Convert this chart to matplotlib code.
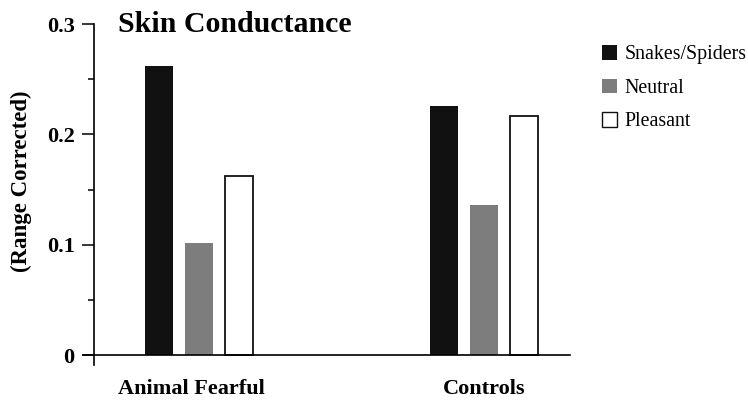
import matplotlib
matplotlib.use("Agg")
import matplotlib.pyplot as plt
from matplotlib.patches import Patch
import numpy as np

groups = ["Animal Fearful", "Controls"]
series = ["Snakes/Spiders", "Neutral", "Pleasant"]
snakes = [0.262, 0.226]
neutral = [0.102, 0.136]
pleasant = [0.162, 0.217]
yticks = [0, 0.1, 0.2, 0.3]
yticklabels = ["0", "0.1", "0.2", "0.3"]

plt.rcParams['font.family'] = ['Liberation Serif', 'DejaVu Serif']

W, H = 748, 401
fig = plt.figure(figsize=(W / 100, H / 100), dpi=100)
fig.patch.set_facecolor("white")

def px(x0, y0, x1, y1):
    return [x0 / W, 1 - y1 / H, (x1 - x0) / W, (y1 - y0) / H]

ax = fig.add_axes(px(83, 24, 570, 365))
x = np.arange(len(groups))
off = 0.14
bw = 0.098
values = [snakes, neutral, pleasant]
faces = ["#111111", "#7d7d7d", "white"]
edges = ["#111111", "#7d7d7d", "#111111"]
lws = [0, 0, 1.3]
handles = []
for i, (vals, fc, ec, lw, name) in enumerate(zip(values, faces, edges, lws, series)):
    ax.bar(x + (i - 1) * off, vals, width=bw, color=fc, edgecolor=ec, linewidth=lw, zorder=2)
    handles.append(Patch(facecolor=fc, edgecolor="#111111" if i == 2 else fc, linewidth=1.0 if i == 2 else 0, label=name))

ax.set_xlim(-0.406, 1.30)
ax.set_ylim(-0.009, 0.3)
ax.spines['top'].set_visible(False)
ax.spines['right'].set_visible(False)
ax.spines['bottom'].set_position(('data', 0))
ax.spines['left'].set_position(('axes', 11 / 487))
ax.spines['left'].set_linewidth(1.2)
ax.spines['bottom'].set_linewidth(1.2)
ax.patch.set_alpha(0)

ax.set_yticks(yticks)
ax.set_yticklabels(yticklabels, fontsize=16, fontweight='bold')
ax.set_yticks([0.05, 0.15, 0.25], minor=True)
ax.tick_params(axis='y', which='major', length=9, width=1.1, direction='out', pad=5)
ax.tick_params(axis='y', which='minor', length=4, width=1.1, direction='out')
ax.set_xticks(x + np.array([-0.025, 0.0]))
ax.set_xticklabels(groups, fontsize=16, fontweight='bold')
ax.tick_params(axis='x', length=0, pad=17)

ax.set_ylabel("(Range Corrected)", fontsize=16.5, fontweight='bold')
ax.yaxis.set_label_coords(-0.105, 0.54)

fig.text(118 / W, 1 - 24 / H, "Skin Conductance", fontsize=21.5, fontweight='bold',
         ha='left', va='center')

fig.legend(handles=handles, loc='upper left', bbox_to_anchor=(602 / W, 1 - 45 / H),
           frameon=False, fontsize=14.3, handlelength=0.75, handleheight=0.75,
           handletextpad=0.4, labelspacing=0.72, borderaxespad=0, borderpad=0)

fig.savefig("out.png", dpi=100, facecolor="white")
